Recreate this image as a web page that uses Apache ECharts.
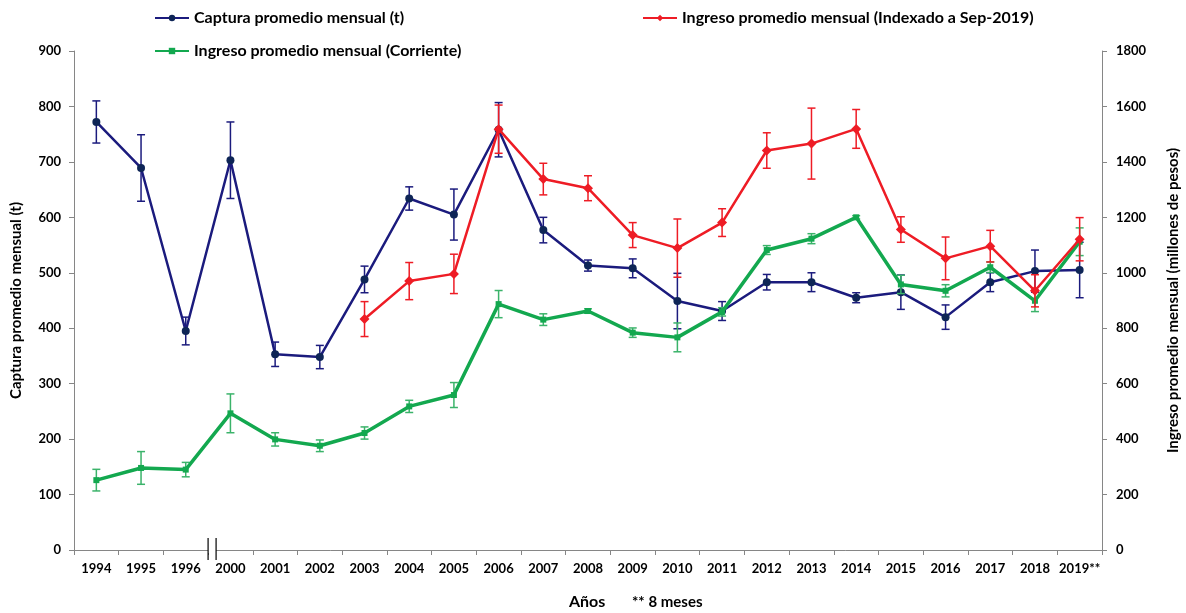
<!DOCTYPE html>
<html>
<head>
<meta charset="utf-8">
<script src="https://cdn.jsdelivr.net/npm/echarts@6/dist/echarts.min.js"></script>
<style>
html,body{margin:0;padding:0;background:#fff;}
#main{width:1186px;height:613px;}
</style>
</head>
<body>
<div id="main"></div>
<script>
const years = ['1994','1995','1996','2000','2001','2002','2003','2004','2005','2006','2007','2008','2009','2010','2011','2012','2013','2014','2015','2016','2017','2018','2019**'];
const captura    = [772,689,395,703,353,348,488,634,605,758,577,513,508,449,431,483,483,455,465,420,483,503,505];
const capturaErr = [38,60,25,69,22,21,24,21,46,49,23,10,17,50,17,14,17,9,31,22,17,38,50];
const indexado    = [null,null,null,null,null,null,833,970,996,1518,1338,1305,1136,1089,1181,1441,1466,1519,1156,1052,1096,935,1121];
const indexadoErr = [null,null,null,null,null,null,63,67,71,87,57,45,45,105,50,64,128,70,46,77,57,58,78];
const corriente    = [252,296,290,493,399,376,422,518,559,887,831,862,784,767,859,1082,1123,1200,958,935,1020,899,1112];
const corrienteErr = [39,59,26,70,24,21,22,22,45,49,21,8,17,52,15,16,18,6,33,22,19,39,50];

const leftTicks = {min:0, max:900, interval:100};
const rightTicks = {min:0, max:1800, interval:200};

const NAVY = '#1b1b7d', NAVY_M = '#0e2556';
const RED = '#ee1c25';
const GREEN = '#13a84f', GREEN_E = '#3bb36a';
const FONT = 'Lato';

function errData(vals, errs){
  const out = [];
  vals.forEach((v,i)=>{ if(v!=null && errs[i]!=null) out.push([i, v-errs[i], v+errs[i]]); });
  return out;
}
function errRender(color, lw){
  return function(params, api){
    const x = api.value(0), lo = api.value(1), hi = api.value(2);
    const p1 = api.coord([x, hi]), p2 = api.coord([x, lo]);
    const w = 4;
    const st = {stroke: color, lineWidth: lw};
    return {type:'group', children:[
      {type:'line', shape:{x1:p1[0],y1:p1[1],x2:p2[0],y2:p2[1]}, style:st},
      {type:'line', shape:{x1:p1[0]-w,y1:p1[1],x2:p1[0]+w,y2:p1[1]}, style:st},
      {type:'line', shape:{x1:p2[0]-w,y1:p2[1],x2:p2[0]+w,y2:p2[1]}, style:st}
    ]};
  };
}

const chart = echarts.init(document.getElementById('main'));
const legendText = {fontFamily:FONT, fontWeight:'bold', fontSize:16, color:'#000'};
const plain = v => String(v);
const option = {
  animation:false,
  textStyle:{fontFamily:FONT},
  grid:{left:74, right:84, top:51, bottom:63, containLabel:false, outerBoundsMode:'none'},
  legend:[
    {data:['Captura promedio mensual (t)'], left:149, top:5, itemWidth:34, itemHeight:8, itemGap:4, textStyle:legendText, selectedMode:false},
    {data:['Ingreso promedio mensual (Indexado a Sep-2019)'], left:637, top:5, itemWidth:34, itemHeight:8, textStyle:legendText, selectedMode:false},
    {data:['Ingreso promedio mensual (Corriente)'], left:149, top:38, itemWidth:34, itemHeight:8, textStyle:legendText, selectedMode:false}
  ],
  xAxis:{
    type:'category', data:years, boundaryGap:true,
    axisLine:{lineStyle:{color:'#868686', width:1}},
    axisTick:{show:true, length:5, lineStyle:{color:'#868686'}},
    axisLabel:{color:'#000', fontFamily:FONT, fontWeight:'bold', fontSize:13, margin:12, interval:0},
    splitLine:{show:false}
  },
  yAxis:[
    {type:'value', min:leftTicks.min, max:leftTicks.max, interval:leftTicks.interval, position:'left',
     name:'Captura promedio mensual (t)', nameLocation:'middle', nameGap:50,
     nameTextStyle:{color:'#000', fontFamily:FONT, fontWeight:'bold', fontSize:15},
     axisLine:{show:true, lineStyle:{color:'#868686'}},
     axisTick:{show:true, length:5, lineStyle:{color:'#868686'}},
     axisLabel:{color:'#000', fontFamily:FONT, fontWeight:'bold', fontSize:13, margin:13, formatter:plain},
     splitLine:{show:false}},
    {type:'value', min:rightTicks.min, max:rightTicks.max, interval:rightTicks.interval, position:'right',
     name:'Ingreso promedio mensual (millones de pesos)', nameLocation:'middle', nameGap:64,
     nameTextStyle:{color:'#000', fontFamily:FONT, fontWeight:'bold', fontSize:15},
     axisLine:{show:true, lineStyle:{color:'#868686'}},
     axisTick:{show:true, length:5, lineStyle:{color:'#868686'}},
     axisLabel:{color:'#000', fontFamily:FONT, fontWeight:'bold', fontSize:13, margin:14, formatter:plain},
     splitLine:{show:false}}
  ],
  series:[
    {name:'Captura promedio mensual (t)', type:'line', yAxisIndex:0, data:captura,
     symbol:'circle', symbolSize:8, lineStyle:{color:NAVY, width:2.5}, itemStyle:{color:NAVY_M}, z:3},
    {type:'custom', yAxisIndex:0, data:errData(captura, capturaErr), renderItem:errRender(NAVY,1.5), encode:{x:0,y:[1,2]}, z:3, silent:true},
    {name:'Ingreso promedio mensual (Corriente)', type:'line', yAxisIndex:1, data:corriente,
     symbol:'rect', symbolSize:6, lineStyle:{color:GREEN, width:3.5}, itemStyle:{color:GREEN}, z:4},
    {type:'custom', yAxisIndex:1, data:errData(corriente, corrienteErr), renderItem:errRender(GREEN_E,1.5), encode:{x:0,y:[1,2]}, z:4, silent:true},
    {name:'Ingreso promedio mensual (Indexado a Sep-2019)', type:'line', yAxisIndex:1, data:indexado, connectNulls:false,
     symbol:'diamond', symbolSize:10, lineStyle:{color:RED, width:2.5}, itemStyle:{color:RED}, z:5},
    {type:'custom', yAxisIndex:1, data:errData(indexado, indexadoErr), renderItem:errRender(RED,1.5), encode:{x:0,y:[1,2]}, z:5, silent:true}
  ]
};
chart.setOption(option);

// axis-break marks and x-axis footnote
const xa = chart.convertToPixel({xAxisIndex:0}, 2);
const xb = chart.convertToPixel({xAxisIndex:0}, 3);
const bx = (xa + xb) / 2;
const y0 = chart.convertToPixel({yAxisIndex:0}, 0);
chart.setOption({graphic:[
  {type:'rect', shape:{x:bx, y:y0-3, width:8, height:6}, style:{fill:'#fff'}, z:100},
  {type:'line', shape:{x1:bx, y1:y0-12, x2:bx, y2:y0+10}, style:{stroke:'#000', lineWidth:1.2}, z:101},
  {type:'line', shape:{x1:bx+8, y1:y0-12, x2:bx+8, y2:y0+10}, style:{stroke:'#000', lineWidth:1.2}, z:101},
  {type:'text', left:569, top:594, style:{text:'Años', fill:'#000', font:'bold 16px Lato'}},
  {type:'text', left:632, top:595, style:{text:'** 8 meses', fill:'#000', font:'bold 15px Lato'}}
]});
</script>
</body>
</html>
